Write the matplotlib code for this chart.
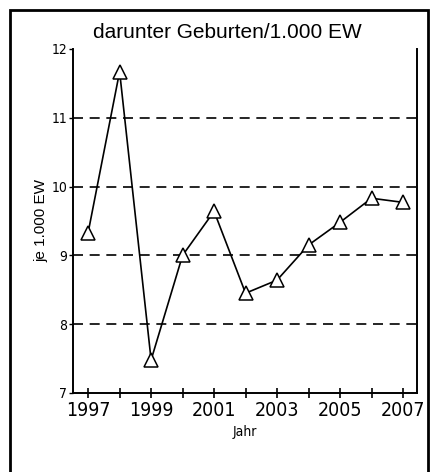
import matplotlib
matplotlib.use("Agg")
import matplotlib.pyplot as plt
from matplotlib.patches import Rectangle

# data
years = [1997, 1998, 1999, 2000, 2001, 2002, 2003, 2004, 2005, 2006, 2007]
births = [9.33, 11.67, 7.48, 9.00, 9.64, 8.45, 8.64, 9.15, 9.48, 9.83, 9.77]
yticks = [7, 8, 9, 10, 11, 12]
gridlines = [8, 9, 10, 11]
xlabels = [str(y) if y % 2 == 1 else "" for y in years]

plt.rcParams["font.family"] = ["Liberation Sans", "DejaVu Sans"]

fig = plt.figure(figsize=(4.38, 4.72), dpi=100)
ax = fig.add_axes([0.1667, 0.1674, 0.785, 0.729])

# box round the whole chart (bottom edge is cut off in the scan)
fig.patches.append(Rectangle((0.023, -0.05), 0.954, 1.029, transform=fig.transFigure,
                             fill=False, edgecolor="black", linewidth=2.0))

for g in gridlines:
    ax.axhline(g, color="black", linestyle=(0, (6, 4)), linewidth=1.2, zorder=1)

ax.plot(years, births, color="black", linewidth=1.2, marker="^", markersize=10,
        markerfacecolor="white", markeredgecolor="black", markeredgewidth=1.1, zorder=3)

ax.set_xlim(1996.52, 2007.44)
ax.set_ylim(7, 12)
ax.set_xticks(years)
ax.set_xticklabels(xlabels, fontsize=14, family="DejaVu Sans", stretch="condensed")
ax.set_yticks(yticks)
ax.set_yticklabels([str(t) for t in yticks], fontsize=10, family="DejaVu Sans", stretch="condensed")
ax.tick_params(axis="x", direction="inout", length=7, width=1.2, pad=2)
ax.tick_params(axis="y", direction="out", length=3, width=1.0, pad=1)

ax.spines["top"].set_visible(False)
for s in ["left", "bottom", "right"]:
    ax.spines[s].set_linewidth(1.4)

ax.set_xlabel("Jahr", fontsize=10, family="DejaVu Sans", stretch="condensed", labelpad=4)
ax.set_ylabel("je 1.000 EW", fontsize=11, labelpad=2)
fig.text(0.518, 0.932, "darunter Geburten/1.000 EW", fontsize=15, ha="center", va="center")

fig.savefig("out.png", dpi=100)
